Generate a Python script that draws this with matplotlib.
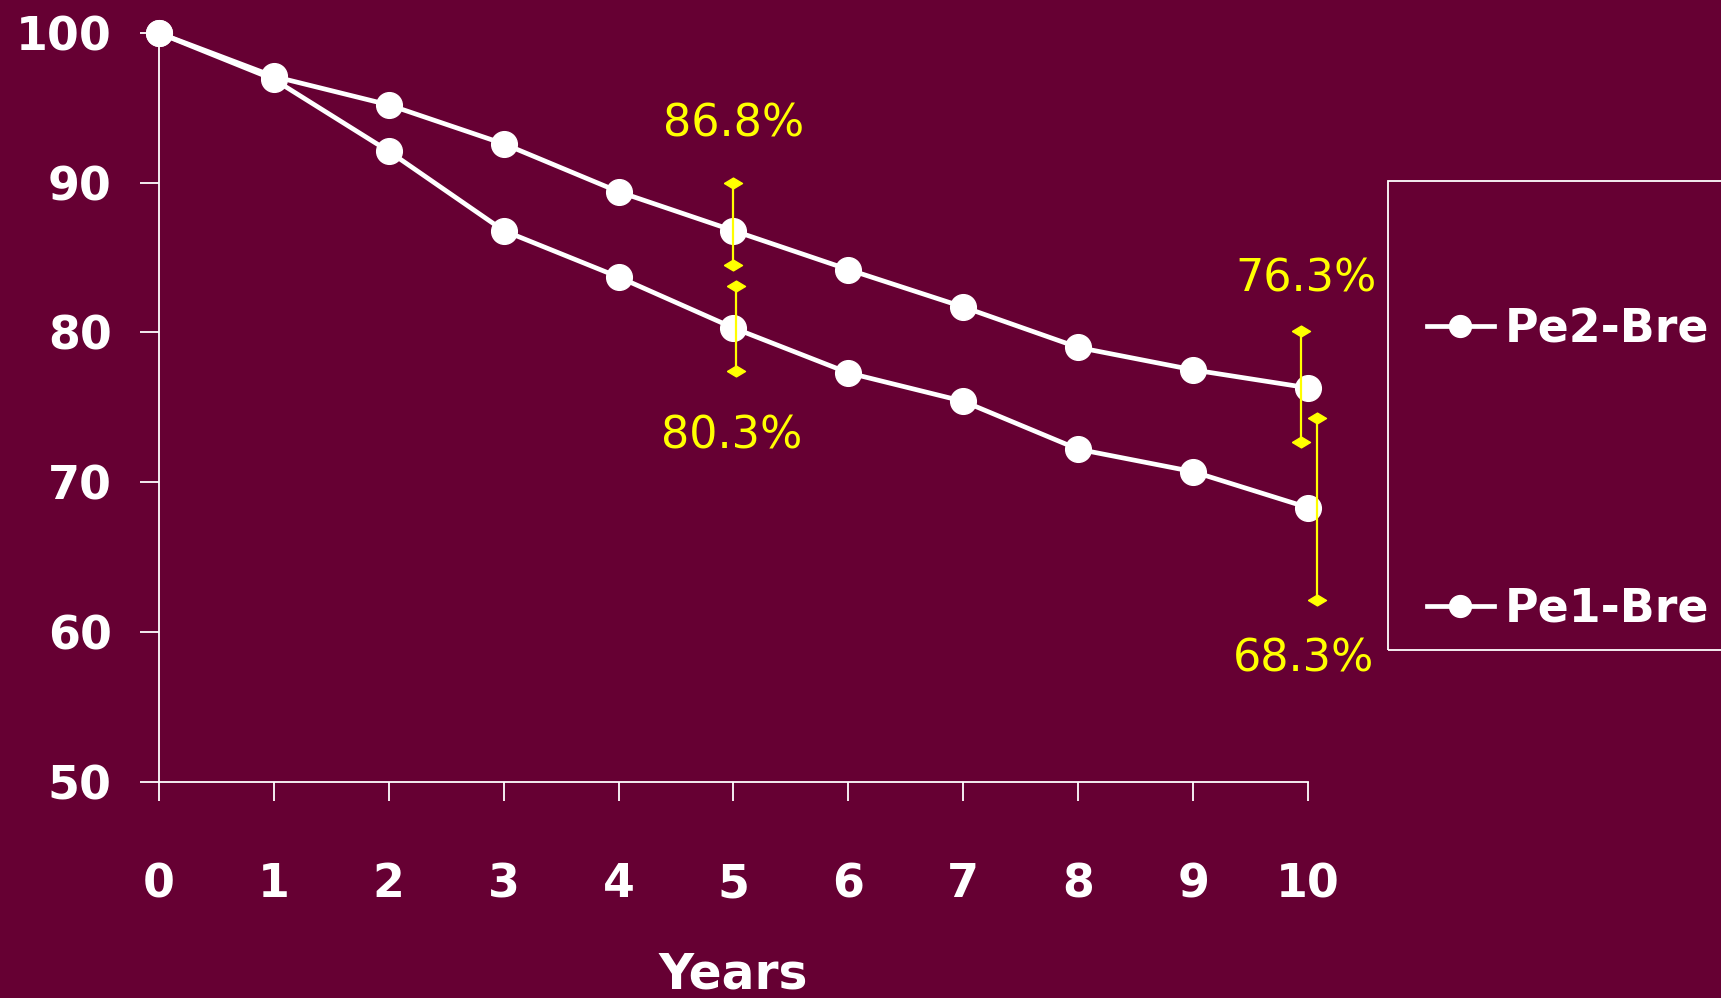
import matplotlib
matplotlib.use("Agg")
import matplotlib.pyplot as plt
from matplotlib.patches import Rectangle
import numpy as np

# data
years = [0, 1, 2, 3, 4, 5, 6, 7, 8, 9, 10]
pe2_bre = [100, 97.1, 95.2, 92.6, 89.4, 86.8, 84.2, 81.7, 79.0, 77.5, 76.3]
pe1_bre = [100, 96.9, 92.1, 86.8, 83.7, 80.3, 77.3, 75.4, 72.2, 70.7, 68.3]

# confidence intervals: (x, low, high)
ci_pe2 = [(5.0, 84.5, 90.0), (9.94, 72.7, 80.1)]
ci_pe1 = [(5.02, 77.4, 83.1), (10.08, 62.1, 74.3)]

# value labels: (text, x, y)
labels = [("86.8%", 5.0, 93.9), ("80.3%", 4.98, 73.1),
          ("76.3%", 9.98, 83.6), ("68.3%", 9.96, 58.2)]

bg = "#660033"
yellow = "#FFFF00"

fig = plt.figure(figsize=(17.21, 9.98), dpi=100, facecolor=bg)
ax = fig.add_axes([0.0924, 0.2169, 0.6676, 0.750], facecolor=bg)

line_kw = dict(color="white", lw=3.4, marker="o", ms=18.5, clip_on=False, zorder=3)
l2, = ax.plot(years, pe2_bre, label="Pe2-Bre", **line_kw)
l1, = ax.plot(years, pe1_bre, label="Pe1-Bre", **line_kw)

# flattened diamond cap
cap = [(-1, 0), (0, 0.6), (1, 0), (0, -0.6), (-1, 0)]
for x, lo, hi in ci_pe2 + ci_pe1:
    ax.plot([x, x], [lo, hi], color=yellow, lw=1.6, marker=cap, ms=13,
            mec=yellow, mfc=yellow, clip_on=False, zorder=4)

for txt, x, y in labels:
    ax.text(x, y, txt, color=yellow, fontsize=32, ha="center", va="center")

ax.set_xlim(0, 10)
ax.set_ylim(50, 100)
ax.set_xticks(years)
ax.set_yticks([50, 60, 70, 80, 90, 100])
for s in ["top", "right"]:
    ax.spines[s].set_visible(False)
for s in ["left", "bottom"]:
    ax.spines[s].set_color("white")
    ax.spines[s].set_linewidth(1.3)
ax.tick_params(axis="y", colors="white", length=14, width=1.3, pad=20,
               labelsize=33)
ax.tick_params(axis="x", colors="white", length=14, width=1.3, pad=44,
               labelsize=33)
for t in ax.get_xticklabels() + ax.get_yticklabels():
    t.set_fontweight("bold")
ax.set_xlabel("Years", color="white", fontsize=35, fontweight="bold",
              labelpad=31)

# legend box runs off the right edge of the slide
fig.patches.append(Rectangle((1388 / 1721, 1 - 650 / 998), 0.3, 469 / 998,
                             transform=fig.transFigure, fill=False,
                             ec="white", lw=1.3))
leg = fig.legend(handles=[l2, l1], loc="upper left",
                 bbox_to_anchor=(1386 / 1721, 1 - 266 / 998),
                 frameon=False, labelspacing=5.12,
                 handlelength=1.45, handletextpad=0.25, markerscale=0.85,
                 prop=dict(size=33, weight="bold"))
for t in leg.get_texts():
    t.set_color("white")

fig.savefig("out.png", dpi=100, facecolor=bg)
